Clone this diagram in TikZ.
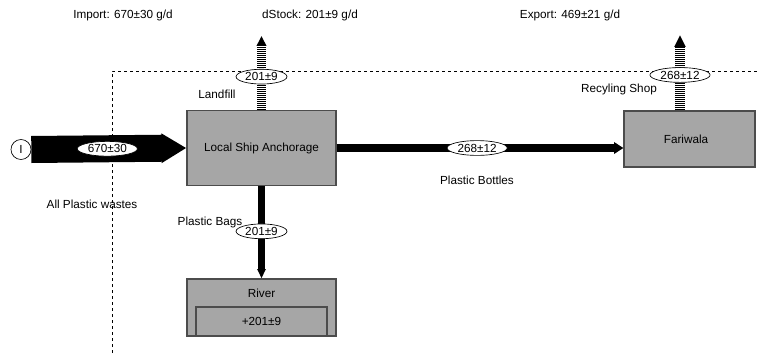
\documentclass[tikz,border=0pt]{standalone}
\usepackage{fontspec}
\setmainfont{Liberation Sans}
\usetikzlibrary{arrows.meta,shapes.geometric}
\definecolor{boxgray}{RGB}{166,166,166}
\tikzset{every picture/.style={line width=0.75pt}}
\tikzset{
  procbox/.style={draw=black!70, fill=boxgray, line width=0.9pt, inner sep=0pt},
  flowtag/.style={ellipse, draw=black, fill=white, solid, line width=0.5pt, inner xsep=1.3pt, inner ysep=0.8pt, minimum height=10.5pt},
  solidflow/.style={draw=black, line width=6pt, -{Triangle[length=7pt,width=8.5pt]}},
  stripeflow/.style={draw=black, line width=6.5pt, dash pattern=on 0.75pt off 0.75pt, -{Triangle[length=7.5pt,width=7pt]}},
  lbl/.style={inner sep=0pt}
}

\begin{document}
\begin{tikzpicture}[x=0.75pt,y=0.75pt,yscale=-1,xscale=1,font=\fontsize{8.8}{10}\selectfont]
\useasboundingbox (0,0) rectangle (759,353);

%System boundary
\draw [line width=0.6pt, dash pattern=on 2.25pt off 2.25pt] (112,353) -- (112,71) -- (759,71) ;

%Processes
\node (lsa) [procbox, minimum width=111.75pt, minimum height=56.25pt] at (261.5,148) {Local Ship Anchorage};
\node (fari) [procbox, minimum width=98.25pt, minimum height=42pt] at (689.5,139) {};
\node at (686,139) {Fariwala};
\node (river) [procbox, minimum width=111.75pt, minimum height=42.75pt] at (261.5,307.5) {};
\node (rivstock) [procbox, minimum width=98.25pt, minimum height=21.75pt] at (261.5,321.5) {+201±9};
\node (rivtxt) [lbl] at (261.5,293) {River};

%Import source
\node (src) [circle, draw, line width=0.5pt, fill=white, minimum size=15pt, inner sep=0pt] at (21,149.5) {I};

%Free ends
\coordinate (lftop) at (261.5,36);
\coordinate (rstop) at (680,35);

%Flows
\draw [draw=black, line width=20.25pt, -{Triangle[length=18.75pt,width=21pt]}] (src.east) -- (lsa.west)
  node [flowtag, pos=0.49] {670±30};
\draw [solidflow] (lsa.east |- 0,148) -- (fari.west |- 0,148)
  node [flowtag, pos=0.49] {268±12};
\draw [solidflow, line width=5.25pt, -{Triangle[length=7pt,width=6pt]}] (lsa.south) -- (river.north)
  node [flowtag, pos=0.49] {201±9};
\draw [stripeflow] (lsa.north) -- (lftop)
  node [flowtag, pos=0.45] {201±9};
\draw [stripeflow, line width=7.5pt, -{Triangle[length=9pt,width=8pt]}] (fari.north -| rstop) -- (rstop)
  node [flowtag, pos=0.47] {268±12};

% Text Node
\node (imp) [lbl] at (123,15) {Import: 670±30 g/d};
% Text Node
\node (dst) [lbl] at (310,15) {dStock: 201±9 g/d};
% Text Node
\node (exp) [lbl] at (570,15) {Export: 469±21 g/d};
% Text Node
\node (lfl) [lbl] at (217,94) {Landfill};
% Text Node
\node (rcs) [lbl] at (619,89) {Recyling Shop};
% Text Node
\node (pbt) [lbl] at (477,180) {Plastic Bottles};
% Text Node
\node (apw) [lbl] at (92,204) {All Plastic wastes};
% Text Node
\node (pbg) [lbl] at (210,222) {Plastic Bags};

\end{tikzpicture}
\end{document}
